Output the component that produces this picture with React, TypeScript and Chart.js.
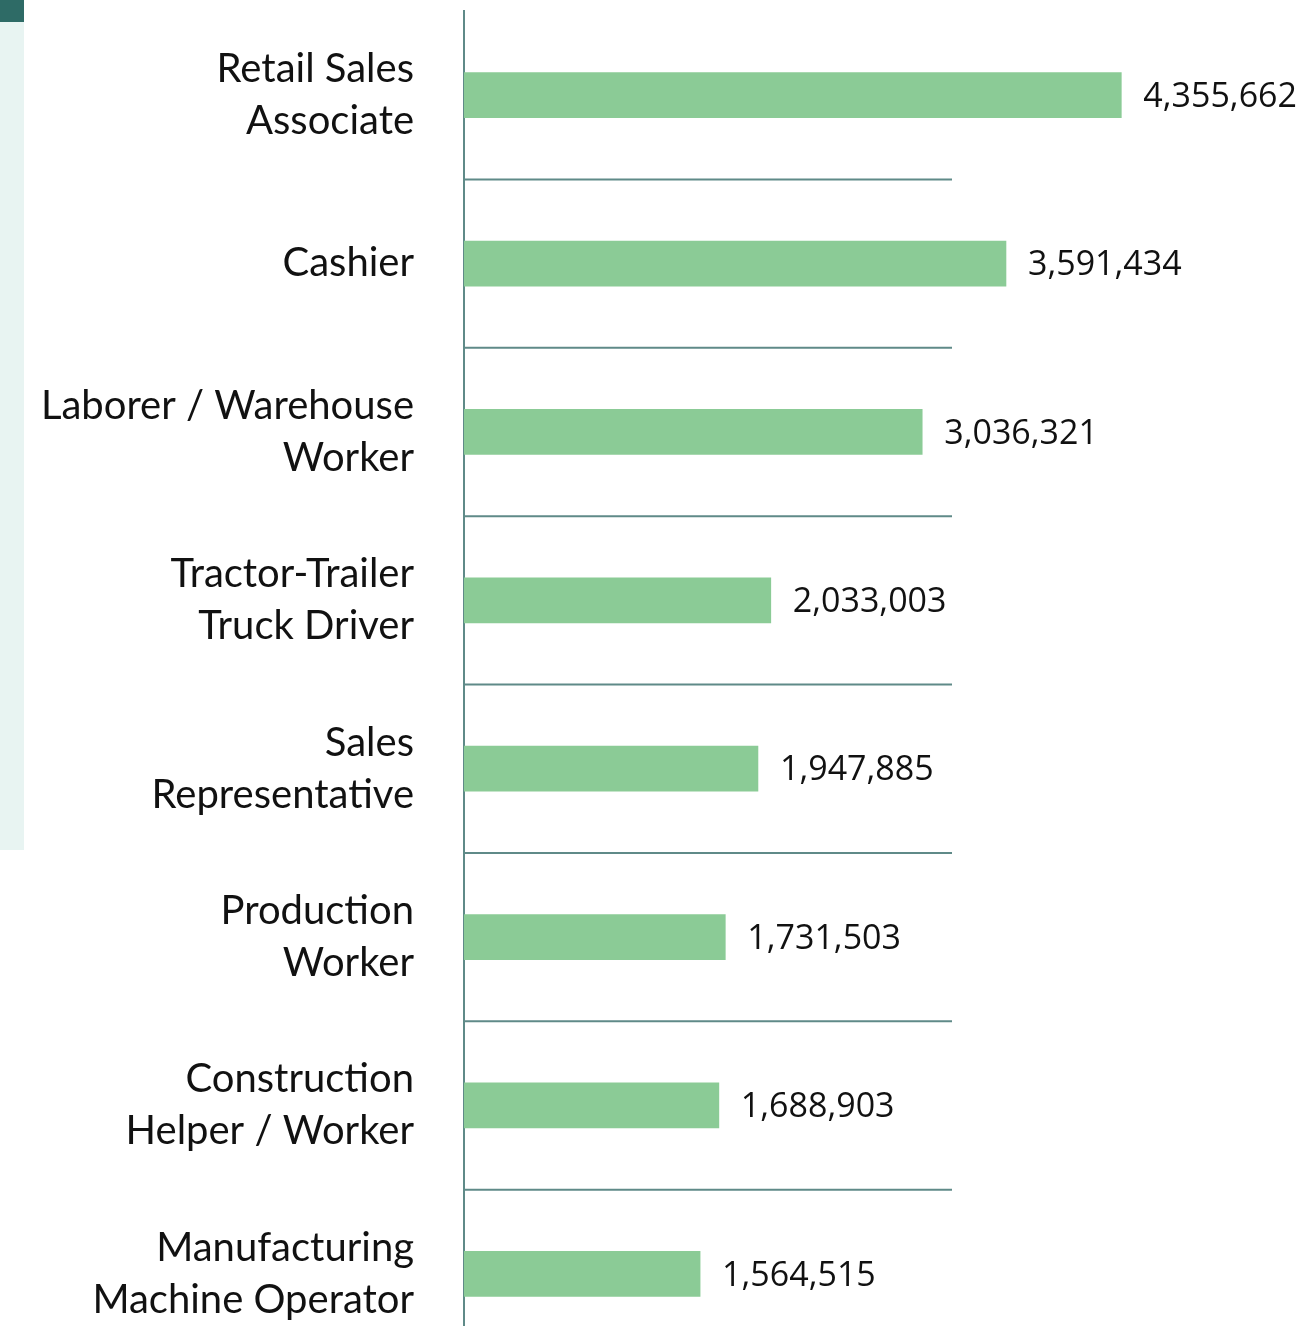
import React, { useEffect, useRef } from "react";
import { Chart, registerables } from "chart.js";

Chart.register(...registerables);

const categories: string[][] = [
  ["Retail Sales", "Associate"],
  ["Cashier"],
  ["Laborer / Warehouse", "Worker"],
  ["Tractor-Trailer", "Truck Driver"],
  ["Sales", "Representative"],
  ["Production", "Worker"],
  ["Construction", "Helper / Worker"],
  ["Manufacturing", "Machine Operator"],
];

const values: number[] = [
  4355662, 3591434, 3036321, 2033003, 1947885, 1731503, 1688903, 1564515,
];

const AXIS_COLOR = "#5f8a88";
const BAR_COLOR = "#8bcb96";
const LABEL_FONT = "Lato, 'Open Sans', sans-serif";

const separatorPlugin = {
  id: "separators",
  afterDatasetsDraw(chart: any) {
    const { ctx, chartArea, scales } = chart;
    const y = scales.y;
    ctx.save();
    ctx.strokeStyle = AXIS_COLOR;
    ctx.lineWidth = 2;
    for (let i = 0; i < categories.length - 1; i++) {
      const yy = (y.getPixelForValue(i) + y.getPixelForValue(i + 1)) / 2;
      ctx.beginPath();
      ctx.moveTo(chartArea.left, yy);
      ctx.lineTo(chartArea.left + 488, yy);
      ctx.stroke();
    }
    ctx.restore();
  },
};

const valueLabelPlugin = {
  id: "valueLabels",
  afterDatasetsDraw(chart: any) {
    const { ctx } = chart;
    const meta = chart.getDatasetMeta(0);
    ctx.save();
    ctx.fillStyle = "#111111";
    ctx.font = "34px 'Open Sans', Lato, sans-serif";
    ctx.textAlign = "left";
    ctx.textBaseline = "middle";
    meta.data.forEach((bar: any, i: number) => {
      ctx.fillText(values[i].toLocaleString("en-US"), bar.x + 22, bar.y + 2);
    });
    ctx.restore();
  },
};

export default function App() {
  const canvasRef = useRef<HTMLCanvasElement | null>(null);

  useEffect(() => {
    if (!canvasRef.current) return;
    const chart = new Chart(canvasRef.current, {
      type: "bar",
      data: {
        labels: categories,
        datasets: [
          {
            data: values,
            backgroundColor: BAR_COLOR,
            borderWidth: 0,
            barThickness: 45,
          },
        ],
      },
      options: {
        indexAxis: "y",
        animation: false,
        responsive: false,
        maintainAspectRatio: false,
        layout: { padding: { top: 11, bottom: 0, left: 0, right: 13 } },
        plugins: {
          legend: { display: false },
          tooltip: { enabled: false },
        },
        scales: {
          x: {
            display: false,
            min: 0,
            max: 5500000,
          },
          y: {
            afterFit(scale: any) {
              scale.width = 464;
              scale.paddingTop = 0;
              scale.paddingBottom = 0;
            },
            grid: { display: false, drawTicks: false },
            border: { display: true, color: AXIS_COLOR, width: 2 },
            ticks: {
              padding: 50,
              color: "#111111",
              font: { family: LABEL_FONT, size: 40, lineHeight: 1.3 },
            },
          },
        },
      },
      plugins: [separatorPlugin, valueLabelPlugin],
    });
    return () => chart.destroy();
  }, []);

  return (
    <div style={{ position: "absolute", left: 0, top: 0, width: 1307, height: 1326, overflow: "hidden", background: "#ffffff" }}>
      <div style={{ position: "absolute", left: 0, top: 0, width: 24, height: 22, background: "#2e6b66" }} />
      <div style={{ position: "absolute", left: 0, top: 22, width: 24, height: 828, background: "#e8f4f2" }} />
      <canvas
        ref={canvasRef}
        width={1307}
        height={1358}
        style={{ position: "absolute", left: 0, top: 0, width: 1307, height: 1358 }}
      />
    </div>
  );
}
